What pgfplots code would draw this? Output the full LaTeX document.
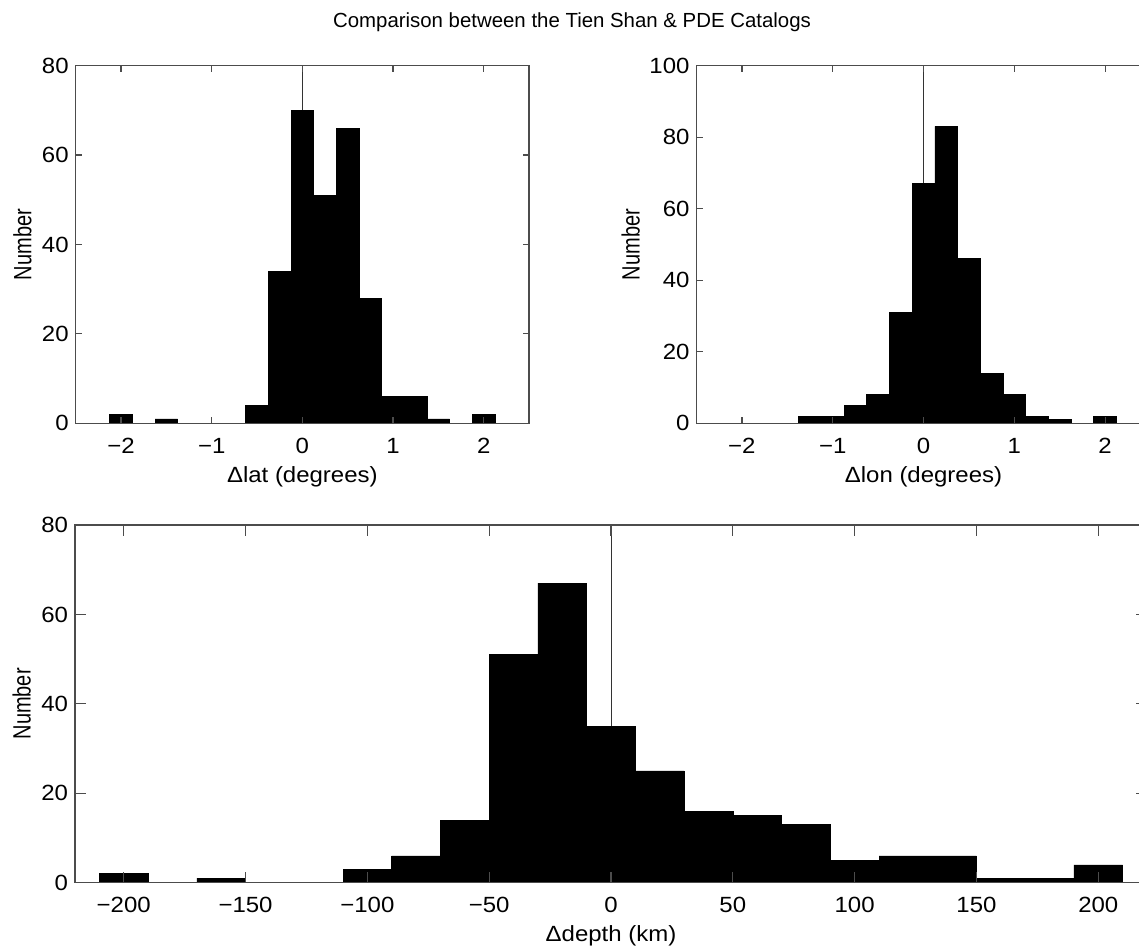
\documentclass[border=0pt]{standalone}
\usepackage{pgfplots}
\pgfplotsset{compat=1.18}
\usepackage{fontspec}
\setmainfont{Liberation Sans}[FakeStretch=1.09]
\newfontfamily\rotfont{Liberation Sans}[FakeStretch=0.8]
\newfontfamily\titlefont{Liberation Sans}

\pgfplotsset{
  hist/.style={
    scale only axis,
    anchor=south west,
    axis on top,
    axis line style={black!70, line width=0.6pt},
    every tick/.style={black!70, line width=0.6pt},
    tick align=inside,
    major tick length=3pt,
    ymin=0,
    tick label style={font=\fontsize{11}{13}\selectfont},
    xticklabel style={anchor=base, yshift=-15pt},
    xlabel style={font=\fontsize{11}{13}\selectfont,
      at={([yshift=-29.5pt]axis description cs:0.5,0)}, anchor=base},
    ylabel style={font=\rotfont\fontsize{12.5}{14}\selectfont,
      at={([xshift=-22.2pt]axis description cs:0,0.5)}, anchor=base},
    ylabel={Number},
  },
  bars/.style={ybar, fill=black, draw=black, line width=0.3pt},
  zeroline/.style={black!80, line width=0.45pt},
}

\begin{document}
\begin{tikzpicture}
\useasboundingbox (0,0) rectangle (569.5pt,473.5pt);
\node[anchor=base, font=\titlefont\fontsize{10.2}{12}\selectfont] at (286pt,459.5pt)
  {Comparison between the Tien Shan \& PDE Catalogs};

% latitude
\begin{axis}[hist, at={(37.85pt,261.85pt)}, width=226.65pt, height=178.8pt,
  xmin=-2.5, xmax=2.5, ymax=80,
  xtick={-2,-1,0,1,2}, xticklabels={−2,−1,0,1,2},
  ytick={0,20,40,60,80}, yticklabels={0,20,40,60,80},
  xlabel={Δlat (degrees)}]
\addplot[zeroline] coordinates {(0,0) (0,80)};
\addplot[bars, bar width=0.25] coordinates {
  (-2,2) (-1.5,1) (-0.5,4) (-0.25,34) (0,70) (0.25,51)
  (0.5,66) (0.75,28) (1,6) (1.25,6) (1.5,1) (2,2)};
\end{axis}

% longitude
\begin{axis}[hist, at={(348.25pt,261.85pt)}, width=227pt, height=178.8pt,
  xmin=-2.5, xmax=2.5, ymax=100,
  xtick={-2,-1,0,1,2}, xticklabels={−2,−1,0,1,2},
  ytick={0,20,40,60,80,100}, yticklabels={0,20,40,60,80,100},
  ylabel style={at={([xshift=-28.5pt]axis description cs:0,0.5)}},
  xlabel={Δlon (degrees)}]
\addplot[zeroline] coordinates {(0,0) (0,100)};
\addplot[bars, bar width=0.25] coordinates {
  (-1.25,2) (-1,2) (-0.75,5) (-0.5,8) (-0.25,31) (0,67) (0.25,83)
  (0.5,46) (0.75,14) (1,8) (1.25,2) (1.5,1) (2,2)};
\end{axis}

% depth
\begin{axis}[hist, at={(37.5pt,32.15pt)}, width=536pt, height=178.85pt,
  major tick length=5.5pt,
  xmin=-220, xmax=220, ymax=80,
  xtick={-200,-150,-100,-50,0,50,100,150,200},
  xticklabels={−200,−150,−100,−50,0,50,100,150,200},
  ytick={0,20,40,60,80}, yticklabels={0,20,40,60,80},
  xlabel={Δdepth (km)}]
\addplot[zeroline] coordinates {(0,0) (0,80)};
\addplot[bars, bar width=20] coordinates {
  (-200,2) (-160,1) (-100,3) (-80,6) (-60,14) (-40,51) (-20,67)
  (0,35) (20,25) (40,16) (60,15) (80,13) (100,5) (120,6) (140,6)
  (160,1) (180,1) (200,4)};
\end{axis}
\end{tikzpicture}
\end{document}
